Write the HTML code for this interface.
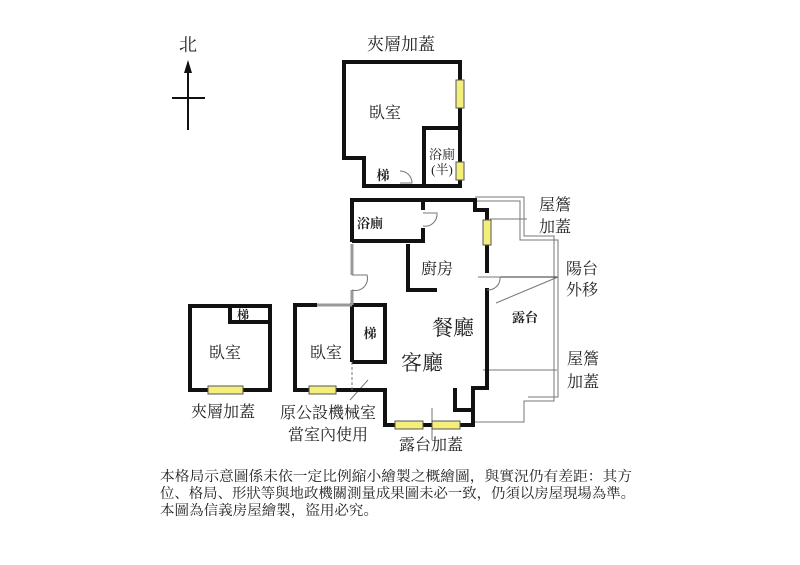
<!DOCTYPE html>
<html><head><meta charset="utf-8"><style>
html,body{margin:0;padding:0;background:#fff;}
svg{display:block}
text{font-family:"Liberation Serif","Noto Serif CJK SC","Noto Sans CJK TC",serif;fill:#222}
</style></head><body>
<svg width="800" height="565" viewBox="0 0 800 565" xmlns="http://www.w3.org/2000/svg">
<!-- compass -->
<text x="188" y="51" font-size="18" text-anchor="middle">北</text>
<line x1="188" y1="70" x2="188" y2="130" stroke="#111" stroke-width="2"/>
<polygon points="188,60 184,73 192,73" fill="#111"/>
<line x1="172" y1="98" x2="205" y2="98" stroke="#111" stroke-width="2"/>

<!-- upper mezzanine -->
<text x="401" y="50" font-size="17" text-anchor="middle">夾層加蓋</text>
<g fill="none" stroke="#111" stroke-width="4">
<polyline points="460,100 460,62 344,62 344,158 364,158 364,186 460,186 460,178"/>
<polyline points="424,186 424,128 460,128"/>
<line x1="460" y1="108" x2="460" y2="163"/>
</g>
<rect x="456" y="80" width="8" height="28" fill="#f4ef7a" stroke="#555" stroke-width="1"/>
<rect x="456" y="162" width="8" height="18" fill="#f4ef7a" stroke="#555" stroke-width="1"/>
<path d="M400,171 A12,12 0 0 1 412,183 L400,183" fill="none" stroke="#777" stroke-width="1"/>
<text x="385" y="118" font-size="16" text-anchor="middle" fill="#555">臥室</text>
<text x="383" y="180" font-size="13" text-anchor="middle" font-weight="bold">梯</text>
<text x="442" y="159" font-size="13" text-anchor="middle">浴廁</text>
<text x="442" y="174" font-size="13" text-anchor="middle">(半)</text>

<!-- balcony outline -->
<g fill="none" stroke="#777" stroke-width="1">
<polyline points="475,197 524,197 524,236 554,236 554,401 524,401 524,422 475,422"/>
<polyline points="475,201 520,201 520,240 558,240 558,397 528,397"/>
<line x1="490" y1="219" x2="527" y2="219"/>
<line x1="480" y1="277" x2="558" y2="277" stroke="#333"/>
<line x1="496" y1="303" x2="558" y2="277"/>
<line x1="483" y1="370" x2="557" y2="370"/>
<line x1="432" y1="408" x2="432" y2="440"/>
<line x1="350" y1="400" x2="368" y2="380"/>
</g>

<!-- main unit walls -->
<g fill="none" stroke="#111" stroke-width="4">
<polyline points="352,242 352,200 475,200 475,210 487,210 487,220"/>
<line x1="487" y1="245" x2="487" y2="273"/>
<polyline points="352,241 423,241 423,228"/>
<line x1="423" y1="200" x2="423" y2="210"/>
<polyline points="408,244 408,290 437,290"/>
<polyline points="487,288 487,388 473,388 473,425 385,425 385,390 295,390 295,305 317,305"/>
<polyline points="455,388 455,410 473,410"/>
<polyline points="352,362 352,305 385,305 385,362 352,362"/>
</g>
<g stroke="#999" stroke-width="3" fill="none">
<line x1="352" y1="244" x2="352" y2="275"/>
<line x1="352" y1="290" x2="352" y2="305"/>
<line x1="317" y1="305" x2="352" y2="305"/>
</g>
<path d="M352,275 L367,275 A12,12 0 0 1 352,290" fill="none" stroke="#777"/>
<path d="M423,213 L437,213 A12,12 0 0 1 423,226" fill="none" stroke="#777"/>
<path d="M478,277 L500,277 A12,12 0 0 1 487,290" fill="none" stroke="#777"/>
<line x1="352" y1="362" x2="352" y2="390" stroke="#777" stroke-dasharray="3,2"/>
<rect x="483" y="220" width="8" height="25" fill="#f4ef7a" stroke="#555"/>
<rect x="309" y="386" width="27" height="8" fill="#f4ef7a" stroke="#555"/>
<rect x="395" y="421" width="28" height="8" fill="#f4ef7a" stroke="#555"/>
<rect x="432" y="421" width="28" height="8" fill="#f4ef7a" stroke="#555"/>

<text x="370" y="228" font-size="13" text-anchor="middle" font-weight="bold">浴廁</text>
<text x="437" y="274" font-size="16" text-anchor="middle">廚房</text>
<text x="370" y="338" font-size="13" text-anchor="middle" font-weight="bold">梯</text>
<text x="453" y="335" font-size="21" text-anchor="middle">餐廳</text>
<text x="422" y="370" font-size="21" text-anchor="middle">客廳</text>
<text x="525" y="322" font-size="13" text-anchor="middle" font-weight="bold">露台</text>
<text x="326" y="358" font-size="16" text-anchor="middle" fill="#555">臥室</text>
<text x="555" y="210" font-size="16" text-anchor="middle">屋簷</text>
<text x="555" y="232" font-size="16" text-anchor="middle">加蓋</text>
<text x="582" y="274" font-size="16" text-anchor="middle">陽台</text>
<text x="582" y="295" font-size="16" text-anchor="middle">外移</text>
<text x="583" y="364" font-size="16" text-anchor="middle">屋簷</text>
<text x="583" y="387" font-size="16" text-anchor="middle">加蓋</text>
<text x="431" y="450" font-size="16" text-anchor="middle">露台加蓋</text>
<text x="328" y="418" font-size="16" text-anchor="middle">原公設機械室</text>
<text x="328" y="440" font-size="16" text-anchor="middle">當室內使用</text>

<!-- left small mezzanine -->
<g fill="none" stroke="#111" stroke-width="4">
<rect x="190" y="306" width="80" height="84"/>
<polyline points="230,306 230,322 270,322"/>
</g>
<rect x="208" y="386" width="35" height="8" fill="#f4ef7a" stroke="#555"/>
<text x="243" y="319" font-size="12" text-anchor="middle" font-weight="bold">梯</text>
<text x="225" y="358" font-size="16" text-anchor="middle" fill="#555">臥室</text>
<text x="223" y="417" font-size="16" text-anchor="middle">夾層加蓋</text>

<!-- footer -->
<text x="160" y="481" font-size="14" textLength="472" lengthAdjust="spacingAndGlyphs">本格局示意圖係未依一定比例縮小繪製之概繪圖，與實況仍有差距：其方</text>
<text x="160" y="498" font-size="14" textLength="475" lengthAdjust="spacingAndGlyphs">位、格局、形狀等與地政機關測量成果圖未必一致，仍須以房屋現場為準。</text>
<text x="160" y="515" font-size="14" textLength="218" lengthAdjust="spacingAndGlyphs">本圖為信義房屋繪製，盜用必究。</text>
</svg>
</body></html>
